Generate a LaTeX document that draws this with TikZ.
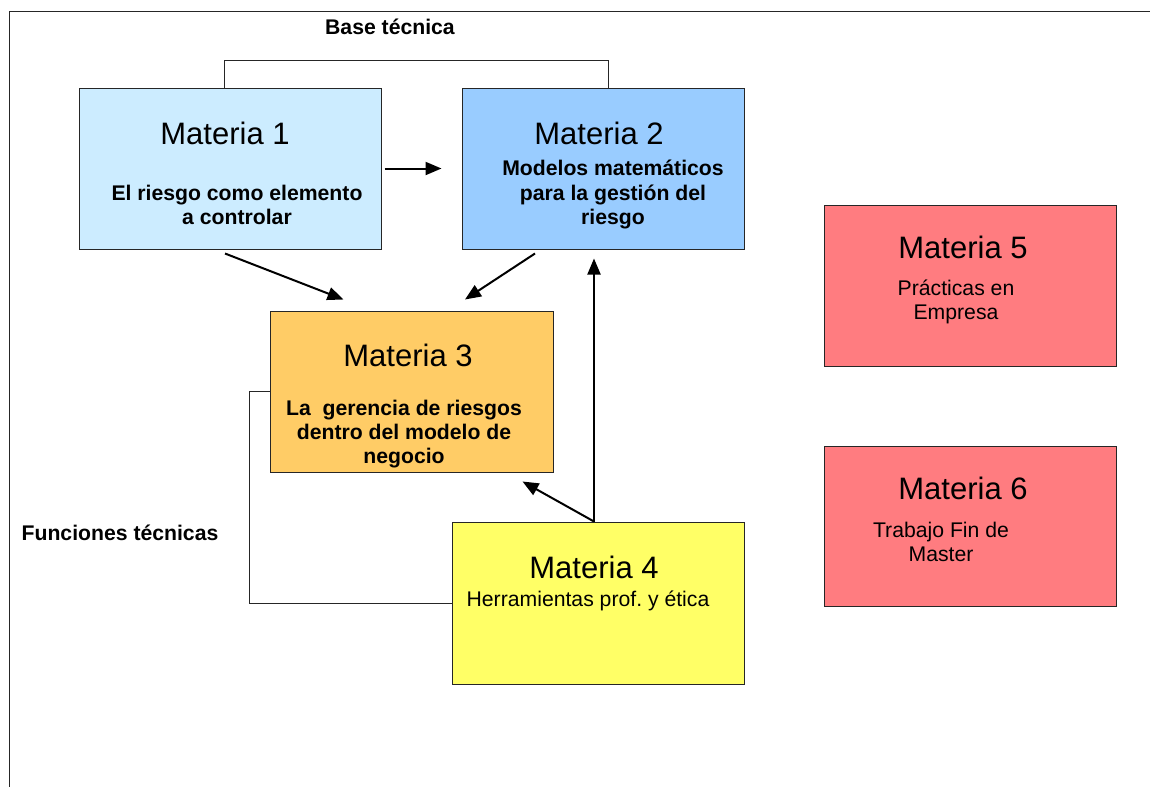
\documentclass[tikz,border=0pt]{standalone}
\usepackage{fontspec}
\setmainfont{Liberation Sans}
\usetikzlibrary{arrows.meta,calc}
\definecolor{cone}{HTML}{CCECFF}
\definecolor{ctwo}{HTML}{99CCFF}
\definecolor{cthree}{HTML}{FFCC66}
\definecolor{cfour}{HTML}{FFFF66}
\definecolor{cfive}{HTML}{FF7C80}
\frenchspacing
\tikzset{
  box/.style={draw=black!85, line width=1pt, inner sep=0pt},
  big/.style={inner sep=0pt, font=\fontsize{31}{35}\selectfont},
  small/.style={inner sep=0pt, align=center, font=\fontsize{21.2}{24.2}\selectfont},
  smallb/.style={small, font=\fontsize{21.2}{24.2}\selectfont\bfseries},
  arr/.style={line width=2pt, -{Triangle[length=16pt,width=13pt]}},
  thin/.style={line width=1pt, black!85}
}
\begin{document}
\begin{tikzpicture}[x=1pt,y=-1pt]
\useasboundingbox (0,0) rectangle (1150,787);
% frame
\draw[thin] (1150,11) -- (9,11) -- (9,787);
% boxes
\node[box, fill=cone, minimum width=302pt, minimum height=161pt] (m1) at (230,168.5) {};
\node[box, fill=ctwo, minimum width=282pt, minimum height=161pt] (m2) at (603,168.5) {};
\node[box, fill=cthree, minimum width=283pt, minimum height=161pt] (m3) at (411.5,391.5) {};
\node[box, fill=cfour, minimum width=292pt, minimum height=162pt] (m4) at (598,603) {};
\node[box, fill=cfive, minimum width=292pt, minimum height=161pt] (m5) at (970,285.5) {};
\node[box, fill=cfive, minimum width=292pt, minimum height=160pt] (m6) at (970,526) {};
% texts
\node[smallb] (tbase) at (390,27) {Base técnica};
\node[smallb] (tfunc) at (120,533) {Funciones técnicas};
\node[big] (t1) at (225,133) {Materia 1};
\node[smallb] (s1) at (237,205) {El riesgo como elemento\\a controlar};
\node[big] (t2) at (599,133) {Materia 2};
\node[smallb] (s2) at (613,194.5) {Modelos matemáticos\\para la gestión del\\riesgo};
\node[big] (t3) at (408,355) {Materia 3};
\node[smallb] (s3) at (404,434) {La\ \ gerencia de riesgos\\dentro del modelo de\\negocio};
\node[big] (t4) at (594,567) {Materia 4};
\node[small] (s4) at (588,601) {Herramientas prof. y ética};
\node[big] (t5) at (963,247) {Materia 5};
\node[small] (s5) at (956,301.5) {Prácticas en\\Empresa};
\node[big] (t6) at (963,488) {Materia 6};
\node[small] (s6) at (941,542) {Trabajo Fin de\\Master};
% bracket
\draw[thin] ([xshift=-6pt]m1.north) -- ++(0,-27) coordinate (bl) -| ([xshift=5pt]m2.north);
\draw[line width=1.6pt, black!85] (bl) -- ++(384,0);
% connector Materia 3 - Materia 4
\draw[thin] (m3.west) -- ++(-20,0) |- (m4.west);
% arrows
\draw[arr] ([xshift=3pt]m1.east) -- ([xshift=-20pt]m2.west);
\draw[arr] ($(m1.south)+(-5,4)$) -- ($(m3.north)+(-68,-11)$);
\draw[arr] ($(m2.south)+(-68,4)$) -- ($(m3.north)+(53.5,-11)$);
\coordinate (m4top) at ($(m4.north)+(-4,0)$);
\draw[arr] (m4top) -- ($(m2.south)+(-9,9)$);
\draw[arr] (m4top) -- ($(m3.south east)+(-31,9)$);
\end{tikzpicture}
\end{document}
